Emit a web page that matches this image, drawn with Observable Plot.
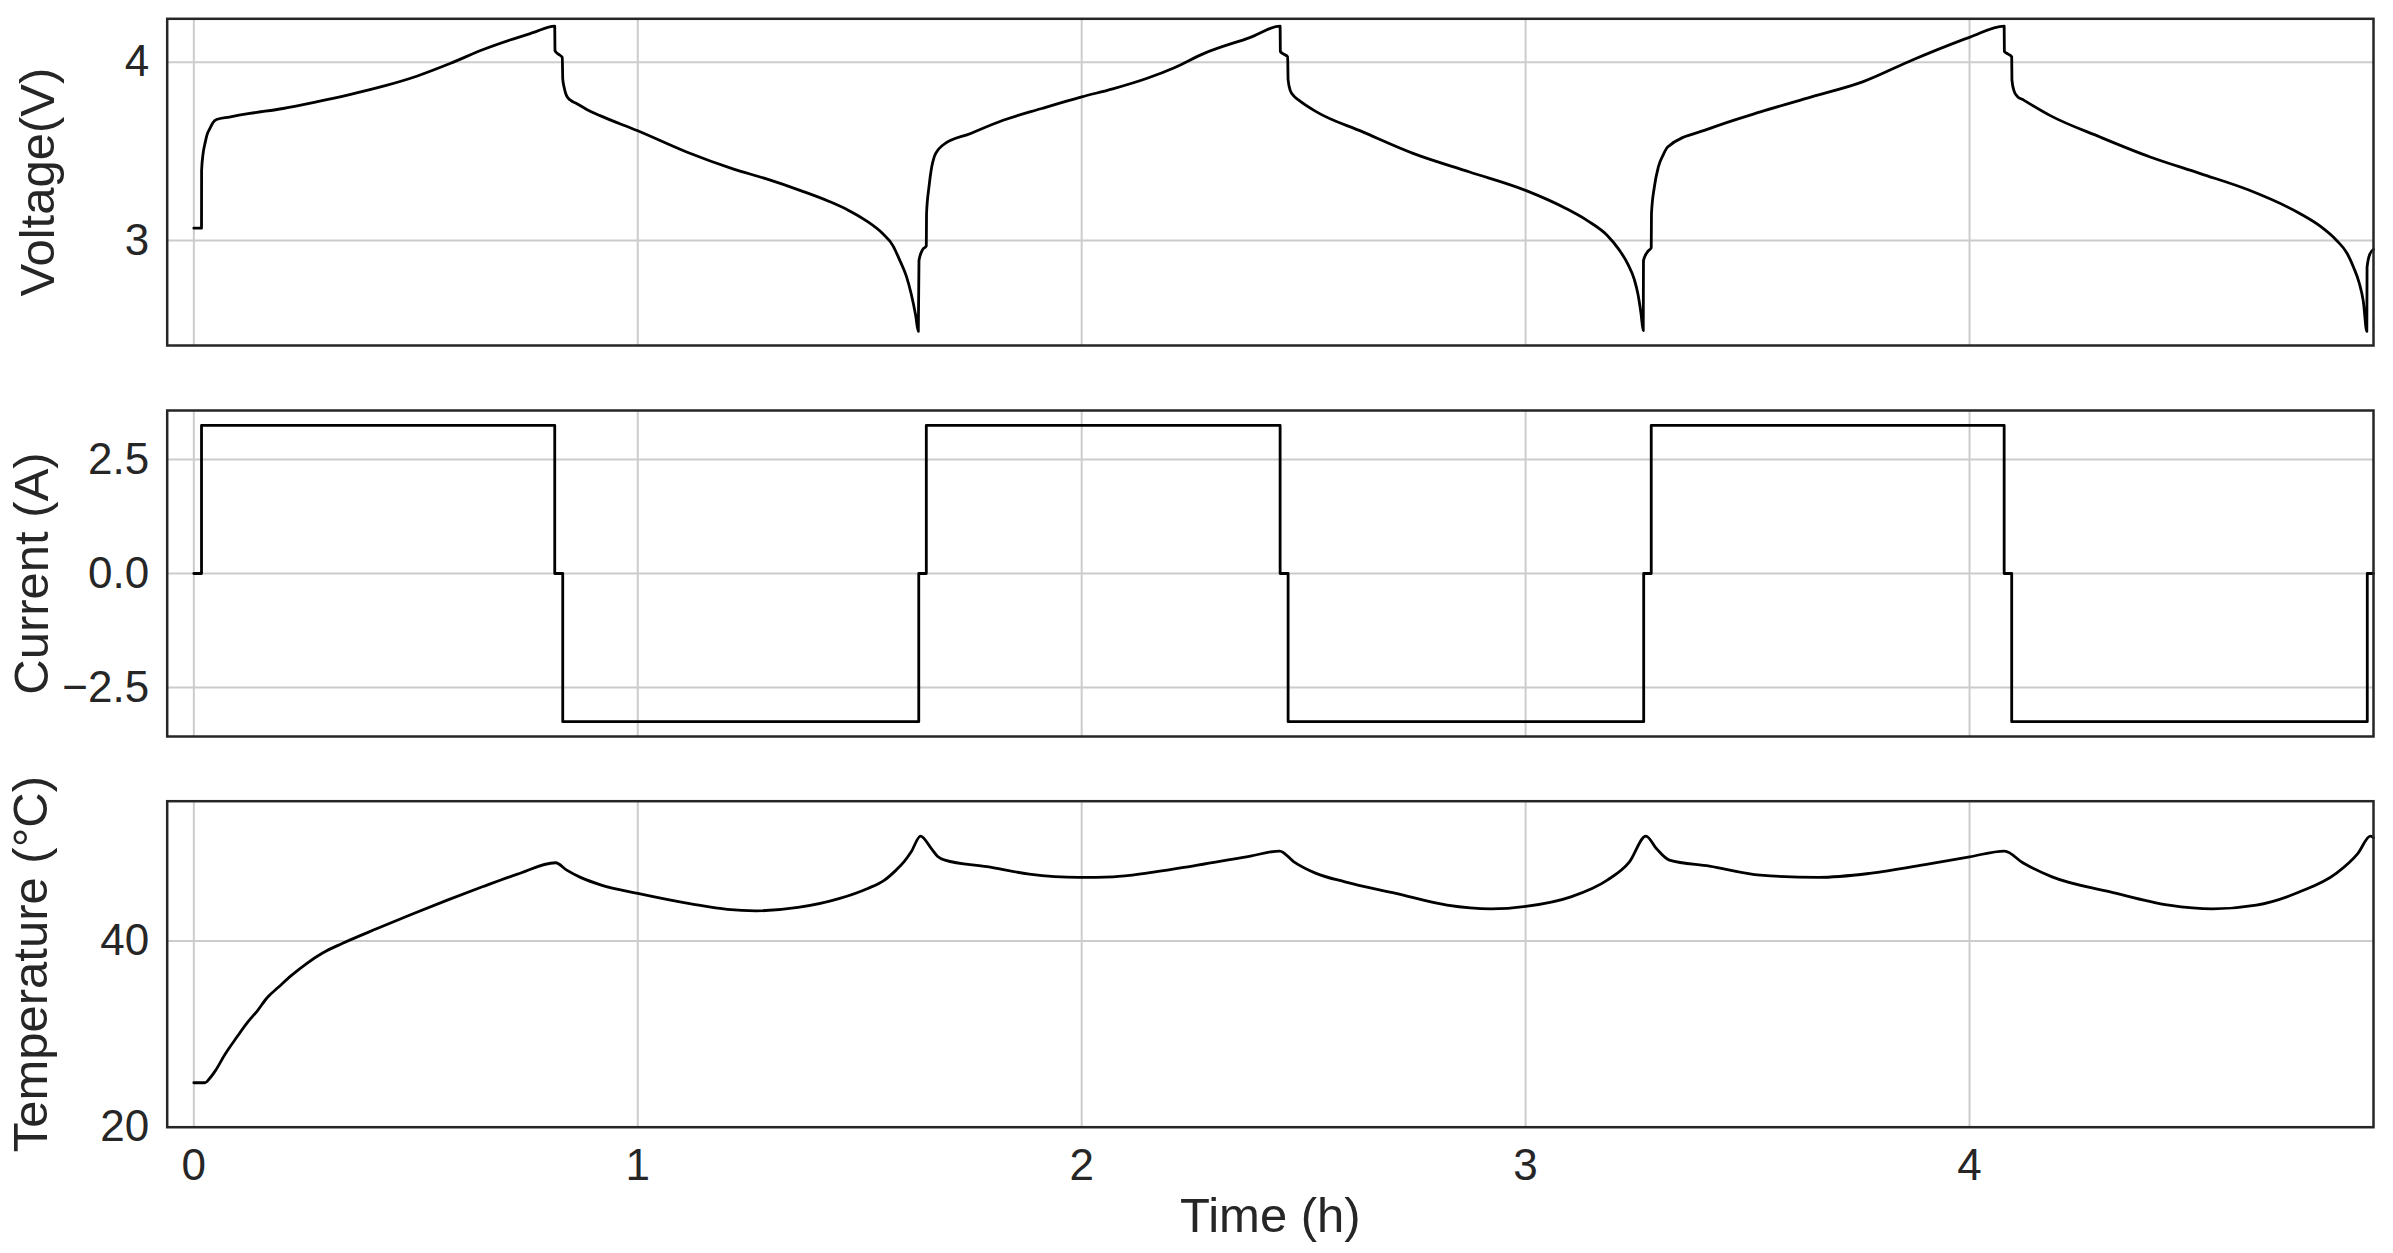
<!DOCTYPE html>
<html>
<head>
<meta charset="utf-8">
<script src="https://cdn.jsdelivr.net/npm/d3@7"></script>
<script src="https://cdn.jsdelivr.net/npm/@observablehq/plot@0.6"></script>
<style>
html, body { margin: 0; padding: 0; background: #fff; }
#chart { position: relative; width: 2393px; height: 1253px; overflow: hidden; background: #fff; }
#chart > svg { position: absolute; left: 0; }
</style>
</head>
<body>
<div id="chart"></div>
<script>
// ---------------- data ----------------
const timeTicks = [0, 1, 2, 3, 4];
const voltageTicks = [3, 4];
const currentTicks = [-2.5, 0, 2.5];
const temperatureTicks = [20, 40];

const timeLabel = "Time (h)";
const voltageLabel = "Voltage(V)";
const currentLabel = "Current (A)";
const temperatureLabel = "Temperature (°C)";

// [time (h), voltage (V)]
const voltage = [
  [0, 3.069], [0.0173, 3.069], [0.0175, 3.393], [0.021, 3.49], [0.025, 3.543], [0.030, 3.595],
  [0.036, 3.627], [0.043, 3.660], [0.051, 3.678], [0.08, 3.692], [0.126, 3.712], [0.201, 3.74],
  [0.276, 3.777], [0.351, 3.818], [0.427, 3.865], [0.502, 3.921], [0.577, 3.992], [0.652, 4.071],
  [0.712, 4.124], [0.764, 4.165], [0.813, 4.202],
  [0.8135, 4.064], [0.821, 4.045], [0.830, 4.026],
  [0.831, 3.908], [0.834, 3.86], [0.839, 3.815], [0.848, 3.787], [0.862, 3.768], [0.885, 3.735],
  [0.915, 3.70], [1.0, 3.615], [1.11, 3.496], [1.216, 3.40], [1.29, 3.345], [1.37, 3.277],
  [1.43, 3.22], [1.474, 3.17], [1.515, 3.11], [1.551, 3.04], [1.575, 2.97], [1.590, 2.89],
  [1.605, 2.80], [1.616, 2.70], [1.626, 2.58], [1.632, 2.49],
  [1.6335, 2.888], [1.642, 2.95], [1.650, 2.97],
  [1.6505, 3.15], [1.656, 3.30], [1.662, 3.41], [1.668, 3.47], [1.677, 3.51], [1.687, 3.534],
  [1.75, 3.60], [1.823, 3.674], [1.91, 3.74], [2.0, 3.805], [2.07, 3.85], [2.146, 3.908],
  [2.21, 3.97], [2.276, 4.049], [2.38, 4.139], [2.447, 4.202],
  [2.4475, 4.06], [2.455, 4.045], [2.464, 4.03],
  [2.465, 3.90], [2.47, 3.84], [2.478, 3.81], [2.489, 3.787], [2.529, 3.721], [2.633, 3.609],
  [2.748, 3.487], [2.874, 3.384], [3.0, 3.281], [3.092, 3.178], [3.14, 3.11], [3.184, 3.028],
  [3.21, 2.95], [3.23, 2.869], [3.245, 2.78], [3.253, 2.70], [3.26, 2.59], [3.265, 2.494],
  [3.2655, 2.888], [3.276, 2.94], [3.283, 2.959],
  [3.2835, 3.15], [3.29, 3.30], [3.299, 3.412], [3.31, 3.48], [3.32, 3.524], [3.414, 3.627],
  [3.529, 3.721], [3.644, 3.805], [3.759, 3.889], [3.874, 4.015], [4.0, 4.139], [4.078, 4.202],
  [4.0785, 4.06], [4.087, 4.045], [4.095, 4.03],
  [4.0955, 3.90], [4.10, 3.84], [4.107, 3.81], [4.122, 3.787], [4.182, 3.70], [4.294, 3.58],
  [4.407, 3.468], [4.52, 3.375], [4.632, 3.28], [4.745, 3.15], [4.79, 3.08], [4.827, 3.0],
  [4.85, 2.93], [4.865, 2.85], [4.878, 2.76], [4.887, 2.66], [4.895, 2.49],
  [4.8955, 2.85], [4.902, 2.925], [4.91, 2.95]
];

// [time (h), current (A)]
const current = [
  [0, 0], [0.0173, 0], [0.0173, 3.25], [0.813, 3.25], [0.813, 0], [0.831, 0], [0.831, -3.25],
  [1.633, -3.25], [1.633, 0], [1.650, 0], [1.650, 3.25], [2.447, 3.25], [2.447, 0], [2.465, 0],
  [2.465, -3.25], [3.266, -3.25], [3.266, 0], [3.283, 0], [3.283, 3.25], [4.078, 3.25],
  [4.078, 0], [4.095, 0], [4.095, -3.25], [4.896, -3.25], [4.896, 0], [4.91, 0]
];

// [time (h), temperature (°C)]
const temperature = [
  [0, 24.77], [0.025, 24.77], [0.035, 25.2], [0.049, 26.1], [0.07, 27.8], [0.097, 29.68],
  [0.12, 31.2], [0.144, 32.55], [0.165, 33.9], [0.191, 35.05], [0.22, 36.3], [0.254, 37.57],
  [0.29, 38.7], [0.334, 39.72], [0.413, 41.33], [0.491, 42.87], [0.571, 44.38], [0.650, 45.81],
  [0.729, 47.17], [0.815, 48.39], [0.84, 47.6], [0.871, 46.82], [0.918, 45.99], [1.0, 45.10],
  [1.123, 43.95], [1.202, 43.38], [1.266, 43.23], [1.361, 43.59], [1.455, 44.56], [1.518, 45.63],
  [1.555, 46.5], [1.582, 47.6], [1.60, 48.5], [1.616, 49.57], [1.637, 51.26], [1.661, 49.94],
  [1.675, 49.1], [1.692, 48.68], [1.787, 47.97], [1.882, 47.17], [1.993, 46.82], [2.071, 46.88],
  [2.15, 47.3], [2.23, 47.89], [2.38, 49.11], [2.446, 49.65], [2.478, 48.49], [2.528, 47.25],
  [2.593, 46.34], [2.708, 45.10], [2.823, 43.84], [2.922, 43.44], [3.004, 43.73], [3.102, 44.73],
  [3.184, 46.53], [3.234, 48.49], [3.271, 51.26], [3.295, 49.9], [3.324, 48.68], [3.414, 48.03],
  [3.529, 47.06], [3.660, 46.82], [3.775, 47.25], [3.906, 48.25], [4.0, 49.03], [4.079, 49.65],
  [4.120, 48.39], [4.186, 46.88], [4.317, 45.27], [4.449, 43.84], [4.547, 43.44], [4.646, 43.84],
  [4.744, 45.27], [4.826, 47.25], [4.875, 49.40], [4.903, 51.26], [4.91, 51.1]
];

// ---------------- drawing ----------------
const W = 2393;
const ML = 166.7, MR = 20;
const X_DOMAIN = [-0.06, 4.91];
const FONT = "'Liberation Sans', Arial, Helvetica, sans-serif";
const INK = "#262626";
const GRID = "#cccccc";
const TICK_FS = 44, LABEL_FS = 49;

function panel({data, curve, yDomain, yTicks, yFormat, label, labelDx, top, marginTop, plotH, marginBottom, showX}) {
  const marks = [
    Plot.gridX(timeTicks, {stroke: GRID, strokeOpacity: 1, strokeWidth: 2}),
    Plot.gridY(yTicks, {stroke: GRID, strokeOpacity: 1, strokeWidth: 2}),
    Plot.line(data, {x: d => d[0], y: d => d[1], curve, stroke: "#000", strokeWidth: 2.8}),
    Plot.frame({stroke: INK, strokeWidth: 2.5}),
    Plot.axisY(yTicks, {tickSize: 0, tickPadding: 18, tickFormat: yFormat, fontSize: TICK_FS, fill: INK, label: null}),
    Plot.text([label], {frameAnchor: "left", text: d => d, rotate: -90, dx: labelDx,
      fontSize: LABEL_FS, fill: INK, textAnchor: "middle", lineAnchor: "middle"})
  ];
  if (showX) {
    marks.push(Plot.axisX(timeTicks, {tickSize: 0, tickPadding: 21.5, tickFormat: d => String(d),
      fontSize: TICK_FS, fill: INK, label: null}));
    marks.push(Plot.text([timeLabel], {frameAnchor: "bottom", text: d => d, dy: 89,
      fontSize: LABEL_FS, fill: INK, textAnchor: "middle", lineAnchor: "middle"}));
  }
  const svg = Plot.plot({
    width: W,
    height: marginTop + plotH + marginBottom,
    marginLeft: ML,
    marginRight: MR,
    marginTop,
    marginBottom,
    style: {fontFamily: FONT, background: "transparent", overflow: "visible"},
    x: {domain: X_DOMAIN, axis: showX ? undefined : null},
    y: {domain: yDomain},
    marks
  });
  svg.style.top = top + "px";
  document.getElementById("chart").appendChild(svg);
}

panel({data: voltage, curve: "monotone-x", yDomain: [2.411, 4.243], yTicks: voltageTicks, yFormat: d => String(d),
  label: voltageLabel, labelDx: -129, top: 0, marginTop: 18.3, plotH: 326.7, marginBottom: 15, showX: false});
panel({data: current, curve: "linear", yDomain: [-3.575, 3.575], yTicks: currentTicks, yFormat: d3.format(".1f"),
  label: currentLabel, labelDx: -135, top: 395, marginTop: 15, plotH: 326, marginBottom: 15, showX: false});
panel({data: temperature, curve: "monotone-x", yDomain: [20, 55], yTicks: temperatureTicks, yFormat: d => String(d),
  label: temperatureLabel, labelDx: -136, top: 785, marginTop: 15.7, plotH: 326, marginBottom: 126.3, showX: true});
</script>
</body>
</html>
